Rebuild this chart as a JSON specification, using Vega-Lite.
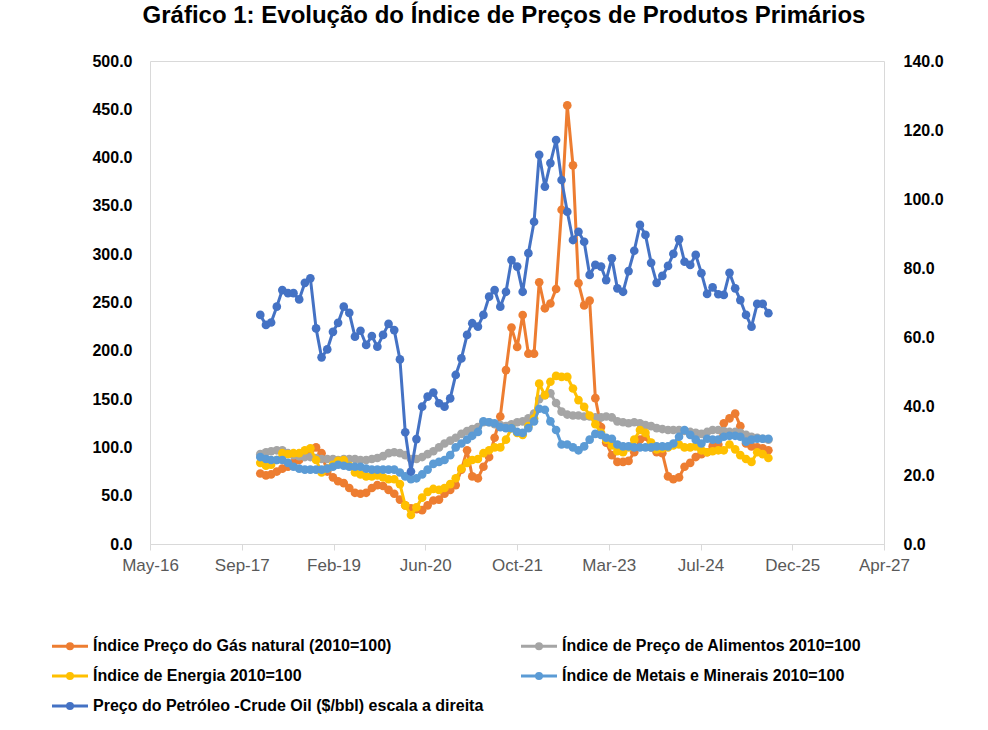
{
  "$schema": "https://vega.github.io/schema/vega-lite/v6.json",
  "width": 734,
  "height": 483,
  "autosize": {"type": "none"},
  "padding": {"left": 150, "top": 61, "right": 104, "bottom": 186},
  "background": "white",
  "title": {"text": "Gráfico 1: Evolução do Índice de Preços de Produtos Primários", "font": "Liberation Sans", "fontSize": 24, "fontWeight": "bold", "color": "#000000", "anchor": "middle", "baseline": "alphabetic", "offset": 6, "dx": -13},
  "config": {"view": {"stroke": "#d9d9d9", "strokeWidth": 1}, "font": "Liberation Sans"},
  "data": {"values": [
    {"d":"2018-01-01","gas":73,"food":93,"energy":84,"metals":90,"oil":66.4},
    {"d":"2018-02-01","gas":71,"food":95,"energy":81,"metals":88,"oil":63.5},
    {"d":"2018-03-01","gas":72,"food":96,"energy":82,"metals":87,"oil":64.2},
    {"d":"2018-04-01","gas":75,"food":97,"energy":87,"metals":87,"oil":68.8},
    {"d":"2018-05-01","gas":78,"food":97,"energy":94,"metals":87,"oil":73.6},
    {"d":"2018-06-01","gas":80,"food":94,"energy":93,"metals":84,"oil":72.7},
    {"d":"2018-07-01","gas":84,"food":92,"energy":94,"metals":80,"oil":72.7},
    {"d":"2018-08-01","gas":87,"food":91,"energy":94,"metals":78,"oil":70.9},
    {"d":"2018-09-01","gas":92,"food":90,"energy":97,"metals":77,"oil":75.7},
    {"d":"2018-10-01","gas":97,"food":90,"energy":99,"metals":77,"oil":77.0},
    {"d":"2018-11-01","gas":100,"food":89,"energy":87,"metals":77,"oil":62.5},
    {"d":"2018-12-01","gas":94,"food":88,"energy":74,"metals":77,"oil":54.1},
    {"d":"2019-01-01","gas":75,"food":88,"energy":78,"metals":78,"oil":56.4},
    {"d":"2019-02-01","gas":69,"food":88,"energy":82,"metals":80,"oil":61.5},
    {"d":"2019-03-01","gas":65,"food":87,"energy":86,"metals":82,"oil":64.1},
    {"d":"2019-04-01","gas":63,"food":88,"energy":87,"metals":81,"oil":68.8},
    {"d":"2019-05-01","gas":58,"food":88,"energy":81,"metals":80,"oil":67.0},
    {"d":"2019-06-01","gas":53,"food":88,"energy":74,"metals":80,"oil":60.1},
    {"d":"2019-07-01","gas":52,"food":87,"energy":72,"metals":80,"oil":61.8},
    {"d":"2019-08-01","gas":53,"food":87,"energy":70,"metals":78,"oil":57.7},
    {"d":"2019-09-01","gas":58,"food":88,"energy":70,"metals":77,"oil":60.3},
    {"d":"2019-10-01","gas":61,"food":89,"energy":71,"metals":77,"oil":57.2},
    {"d":"2019-11-01","gas":60,"food":91,"energy":69,"metals":77,"oil":60.6},
    {"d":"2019-12-01","gas":56,"food":94,"energy":67,"metals":77,"oil":63.8},
    {"d":"2020-01-01","gas":52,"food":95,"energy":67,"metals":77,"oil":62.0},
    {"d":"2020-02-01","gas":46,"food":94,"energy":62,"metals":74,"oil":53.5},
    {"d":"2020-03-01","gas":40,"food":92,"energy":40,"metals":70,"oil":32.4},
    {"d":"2020-04-01","gas":37,"food":88,"energy":30,"metals":67,"oil":21.0},
    {"d":"2020-05-01","gas":36,"food":88,"energy":38,"metals":68,"oil":30.4},
    {"d":"2020-06-01","gas":35,"food":90,"energy":48,"metals":72,"oil":39.8},
    {"d":"2020-07-01","gas":40,"food":93,"energy":54,"metals":77,"oil":42.7},
    {"d":"2020-08-01","gas":45,"food":96,"energy":57,"metals":83,"oil":43.9},
    {"d":"2020-09-01","gas":46,"food":100,"energy":56,"metals":85,"oil":40.8},
    {"d":"2020-10-01","gas":52,"food":104,"energy":58,"metals":87,"oil":39.8},
    {"d":"2020-11-01","gas":56,"food":107,"energy":62,"metals":92,"oil":42.2},
    {"d":"2020-12-01","gas":61,"food":110,"energy":68,"metals":100,"oil":49.0},
    {"d":"2021-01-01","gas":77,"food":114,"energy":78,"metals":104,"oil":53.8},
    {"d":"2021-02-01","gas":97,"food":117,"energy":84,"metals":108,"oil":60.6},
    {"d":"2021-03-01","gas":70,"food":119,"energy":87,"metals":112,"oil":64.0},
    {"d":"2021-04-01","gas":68,"food":121,"energy":88,"metals":116,"oil":63.0},
    {"d":"2021-05-01","gas":80,"food":126,"energy":94,"metals":127,"oil":66.4},
    {"d":"2021-06-01","gas":90,"food":126,"energy":97,"metals":126,"oil":71.7},
    {"d":"2021-07-01","gas":110,"food":124,"energy":100,"metals":125,"oil":73.6},
    {"d":"2021-08-01","gas":132,"food":123,"energy":100,"metals":121,"oil":68.8},
    {"d":"2021-09-01","gas":180,"food":122,"energy":108,"metals":120,"oil":73.1},
    {"d":"2021-10-01","gas":224,"food":124,"energy":120,"metals":120,"oil":82.3},
    {"d":"2021-11-01","gas":204,"food":126,"energy":115,"metals":116,"oil":80.4},
    {"d":"2021-12-01","gas":237,"food":127,"energy":113,"metals":115,"oil":73.1},
    {"d":"2022-01-01","gas":197,"food":130,"energy":122,"metals":120,"oil":84.3},
    {"d":"2022-02-01","gas":197,"food":135,"energy":130,"metals":127,"oil":93.4},
    {"d":"2022-03-01","gas":271,"food":150,"energy":166,"metals":140,"oil":112.8},
    {"d":"2022-04-01","gas":244,"food":154,"energy":154,"metals":139,"oil":103.6},
    {"d":"2022-05-01","gas":249,"food":156,"energy":168,"metals":127,"oil":110.4},
    {"d":"2022-06-01","gas":264,"food":146,"energy":174,"metals":118,"oil":117.1},
    {"d":"2022-07-01","gas":346,"food":137,"energy":173,"metals":103,"oil":105.5},
    {"d":"2022-08-01","gas":454,"food":134,"energy":173,"metals":103,"oil":96.3},
    {"d":"2022-09-01","gas":392,"food":133,"energy":161,"metals":100,"oil":88.1},
    {"d":"2022-10-01","gas":270,"food":133,"energy":149,"metals":97,"oil":90.5},
    {"d":"2022-11-01","gas":247,"food":132,"energy":142,"metals":101,"oil":87.6},
    {"d":"2022-12-01","gas":252,"food":132,"energy":133,"metals":108,"oil":78.0},
    {"d":"2023-01-01","gas":151,"food":131,"energy":124,"metals":114,"oil":80.9},
    {"d":"2023-02-01","gas":121,"food":131,"energy":115,"metals":113,"oil":80.4},
    {"d":"2023-03-01","gas":105,"food":132,"energy":108,"metals":110,"oil":76.5},
    {"d":"2023-04-01","gas":92,"food":131,"energy":102,"metals":109,"oil":82.8},
    {"d":"2023-05-01","gas":85,"food":127,"energy":96,"metals":103,"oil":74.1},
    {"d":"2023-06-01","gas":85,"food":126,"energy":95,"metals":101,"oil":73.1},
    {"d":"2023-07-01","gas":86,"food":125,"energy":100,"metals":101,"oil":79.1},
    {"d":"2023-08-01","gas":95,"food":126,"energy":108,"metals":100,"oil":85.0},
    {"d":"2023-09-01","gas":108,"food":125,"energy":118,"metals":100,"oil":92.5},
    {"d":"2023-10-01","gas":111,"food":123,"energy":115,"metals":100,"oil":89.6},
    {"d":"2023-11-01","gas":100,"food":122,"energy":105,"metals":100,"oil":81.5},
    {"d":"2023-12-01","gas":95,"food":120,"energy":98,"metals":101,"oil":75.7},
    {"d":"2024-01-01","gas":94,"food":119,"energy":99,"metals":101,"oil":77.7},
    {"d":"2024-02-01","gas":70,"food":118,"energy":100,"metals":101,"oil":80.6},
    {"d":"2024-03-01","gas":67,"food":118,"energy":102,"metals":104,"oil":84.1},
    {"d":"2024-04-01","gas":69,"food":118,"energy":103,"metals":111,"oil":88.3},
    {"d":"2024-05-01","gas":80,"food":117,"energy":100,"metals":118,"oil":81.8},
    {"d":"2024-06-01","gas":84,"food":116,"energy":100,"metals":113,"oil":80.9},
    {"d":"2024-07-01","gas":90,"food":115,"energy":101,"metals":108,"oil":83.8},
    {"d":"2024-08-01","gas":93,"food":114,"energy":97,"metals":104,"oil":78.5},
    {"d":"2024-09-01","gas":95,"food":116,"energy":95,"metals":109,"oil":72.5},
    {"d":"2024-10-01","gas":101,"food":118,"energy":96,"metals":108,"oil":74.4},
    {"d":"2024-11-01","gas":103,"food":118,"energy":97,"metals":108,"oil":72.4},
    {"d":"2024-12-01","gas":125,"food":117,"energy":97,"metals":111,"oil":72.2},
    {"d":"2025-01-01","gas":130,"food":116,"energy":103,"metals":112,"oil":78.6},
    {"d":"2025-02-01","gas":135,"food":116,"energy":98,"metals":112,"oil":74.1},
    {"d":"2025-03-01","gas":122,"food":115,"energy":92,"metals":111,"oil":70.7},
    {"d":"2025-04-01","gas":104,"food":113,"energy":88,"metals":106,"oil":66.4},
    {"d":"2025-05-01","gas":101,"food":111,"energy":85,"metals":108,"oil":63.0},
    {"d":"2025-06-01","gas":100,"food":110,"energy":95,"metals":109,"oil":69.6},
    {"d":"2025-07-01","gas":99,"food":109,"energy":93,"metals":109,"oil":69.6},
    {"d":"2025-08-01","gas":97,"food":108,"energy":89,"metals":109,"oil":66.9}
  ]},
  "encoding": {
    "x": {
      "field": "d", "type": "temporal",
      "scale": {"type": "utc", "domain": [{"year": 2016, "month": 5, "date": 10, "utc": true}, {"year": 2027, "month": 4, "date": 23, "utc": true}]},
      "axis": {
        "title": null, "grid": false,
        "values": [
          {"year": 2016, "month": 5, "date": 10, "utc": true},
          {"year": 2017, "month": 9, "date": 22, "utc": true},
          {"year": 2019, "month": 2, "date": 4, "utc": true},
          {"year": 2020, "month": 6, "date": 18, "utc": true},
          {"year": 2021, "month": 10, "date": 31, "utc": true},
          {"year": 2023, "month": 3, "date": 15, "utc": true},
          {"year": 2024, "month": 7, "date": 27, "utc": true},
          {"year": 2025, "month": 12, "date": 9, "utc": true},
          {"year": 2027, "month": 4, "date": 23, "utc": true}
        ],
        "labelExpr": "utcFormat(datum.value, '%b-%y')",
        "labelFont": "Liberation Sans", "labelFontSize": 17, "labelColor": "#595959",
        "labelFlush": false, "labelOverlap": false, "labelPadding": 7,
        "tickColor": "#d9d9d9", "tickSize": 6, "domainColor": "#d9d9d9"
      }
    }
  },
  "layer": [
    {
      "layer": [
        {
          "mark": {"type": "line", "strokeWidth": 3, "strokeJoin": "round", "strokeCap": "round", "point": {"filled": true, "size": 75}},
          "encoding": {
            "y": {"field": "gas", "type": "quantitative", "scale": {"domain": [0, 500]},
              "axis": {"title": null, "values": [0,50,100,150,200,250,300,350,400,450,500], "format": ".1f", "labelFont": "Liberation Sans", "labelFontSize": 16, "labelFontWeight": "bold", "labelColor": "#000000", "ticks": false, "domain": false, "grid": false, "labelPadding": 18}},
            "color": {"datum": "gas", "scale": {"domain": ["gas", "food", "energy", "metals", "oil"], "range": ["#ED7D31", "#A5A5A5", "#FFC000", "#5B9BD5", "#4472C4"]},
              "legend": {
                "orient": "none", "direction": "horizontal", "legendX": -88, "legendY": 577, "columns": 2, "columnPadding": 31, "rowPadding": 12, "title": null,
                "labelFont": "Liberation Sans", "labelFontSize": 16, "labelFontWeight": "bold", "labelColor": "#000000", "labelLimit": 0, "labelOffset": 15,
                "symbolType": "M-3.6,0H3.6M-0.5,0a0.5,0.5 0 1,0 1,0a0.5,0.5 0 1,0 -1,0", "symbolSize": 100, "symbolStrokeWidth": 3,
                "labelExpr": "datum.label == 'gas' ? 'Índice Preço do Gás natural (2010=100)' : datum.label == 'food' ? 'Índice de Preço de Alimentos 2010=100' : datum.label == 'energy' ? 'Índice de Energia 2010=100' : datum.label == 'metals' ? 'Índice de Metais e Minerais 2010=100' : ' Preço do Petróleo -Crude Oil ($/bbl) escala a direita'",
                "encode": {"symbols": {"update": {"fill": {"scale": "color", "field": "value"}, "stroke": {"scale": "color", "field": "value"}}}}
              }}
          }
        },
        {
          "mark": {"type": "line", "strokeWidth": 3, "strokeJoin": "round", "strokeCap": "round", "point": {"filled": true, "size": 75}},
          "encoding": {
            "y": {"field": "food", "type": "quantitative", "scale": {"domain": [0, 500]},
              "axis": {"title": null, "values": [0,50,100,150,200,250,300,350,400,450,500], "format": ".1f", "labelFont": "Liberation Sans", "labelFontSize": 16, "labelFontWeight": "bold", "labelColor": "#000000", "ticks": false, "domain": false, "grid": false, "labelPadding": 18}},
            "color": {"datum": "food"}
          }
        },
        {
          "mark": {"type": "line", "strokeWidth": 3, "strokeJoin": "round", "strokeCap": "round", "point": {"filled": true, "size": 75}},
          "encoding": {
            "y": {"field": "energy", "type": "quantitative", "scale": {"domain": [0, 500]},
              "axis": {"title": null, "values": [0,50,100,150,200,250,300,350,400,450,500], "format": ".1f", "labelFont": "Liberation Sans", "labelFontSize": 16, "labelFontWeight": "bold", "labelColor": "#000000", "ticks": false, "domain": false, "grid": false, "labelPadding": 18}},
            "color": {"datum": "energy"}
          }
        },
        {
          "mark": {"type": "line", "strokeWidth": 3, "strokeJoin": "round", "strokeCap": "round", "point": {"filled": true, "size": 75}},
          "encoding": {
            "y": {"field": "metals", "type": "quantitative", "scale": {"domain": [0, 500]},
              "axis": {"title": null, "values": [0,50,100,150,200,250,300,350,400,450,500], "format": ".1f", "labelFont": "Liberation Sans", "labelFontSize": 16, "labelFontWeight": "bold", "labelColor": "#000000", "ticks": false, "domain": false, "grid": false, "labelPadding": 18}},
            "color": {"datum": "metals"}
          }
        }
      ]
    },
    {
      "mark": {"type": "line", "strokeWidth": 3, "strokeJoin": "round", "strokeCap": "round", "point": {"filled": true, "size": 75}},
      "encoding": {
        "y": {"field": "oil", "type": "quantitative", "scale": {"domain": [0, 140]},
          "axis": {"orient": "right", "title": null, "values": [0,20,40,60,80,100,120,140], "format": ".1f", "labelFont": "Liberation Sans", "labelFontSize": 16, "labelFontWeight": "bold", "labelColor": "#000000", "ticks": false, "domain": false, "grid": false, "labelPadding": 19}},
        "color": {"datum": "oil"}
      }
    }
  ],
  "resolve": {"scale": {"y": "independent"}}
}
